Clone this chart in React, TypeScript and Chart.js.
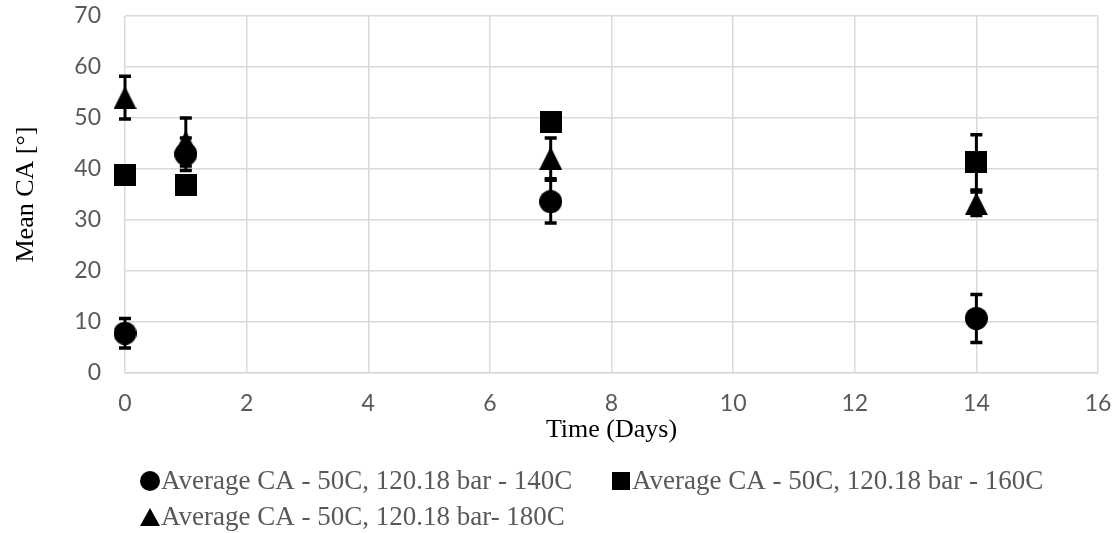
import { useEffect, useRef } from "react";
import { Chart, registerables } from "chart.js";

Chart.register(...registerables);

// Sampling days
const days = [0, 1, 7, 14];

// Mean contact angle (degrees) and error half-widths per treatment
const ca140 = [7.8, 42.9, 33.6, 10.7];
const err140 = [2.9, 3.2, 4.2, 4.7];
const ca160 = [38.9, 36.9, 49.3, 41.3];
const err160 = [1.0, 1.0, 1.0, 5.4];
const ca180 = [54.0, 45.3, 42.1, 33.2];
const err180 = [4.2, 4.7, 4.0, 2.3];

const seriesLabels = [
  "Average CA - 50C, 120.18 bar - 140C",
  "Average CA - 50C, 120.18 bar - 160C",
  "Average CA - 50C, 120.18 bar- 180C",
];

const xAxisTitle = "Time (Days)";
const yAxisTitle = "Mean CA [°]";
const xMin = 0;
const xMax = 16;
const xStep = 2;
const yMin = 0;
const yMax = 70;
const yStep = 10;

type Shape = "circle" | "square" | "triangle";

function drawShape(ctx: CanvasRenderingContext2D, shape: Shape, cx: number, cy: number, w: number, h = w) {
  ctx.beginPath();
  if (shape === "circle") {
    ctx.arc(cx, cy, w / 2, 0, Math.PI * 2);
  } else if (shape === "square") {
    ctx.rect(cx - w / 2, cy - h / 2, w, h);
  } else {
    ctx.moveTo(cx, cy - h / 2);
    ctx.lineTo(cx + w / 2, cy + h / 2);
    ctx.lineTo(cx - w / 2, cy + h / 2);
    ctx.closePath();
  }
  ctx.fillStyle = "#000";
  ctx.fill();
}

function markerCanvas(shape: Shape, size: number): HTMLCanvasElement {
  const c = document.createElement("canvas");
  c.width = size;
  c.height = size;
  const ctx = c.getContext("2d")!;
  drawShape(ctx, shape, size / 2, size / 2, size);
  return c;
}

const errors = [err140, err160, err180];

// Vertical error bars with caps, drawn beneath the markers
const errorBarPlugin = {
  id: "errorBars",
  beforeDatasetsDraw(chart: Chart) {
    const { ctx } = chart;
    const xs = chart.scales.x;
    const ys = chart.scales.y;
    ctx.save();
    ctx.strokeStyle = "#000";
    chart.data.datasets.forEach((ds: any, i: number) => {
      const errs = errors[i];
      ds.data.forEach((pt: any, j: number) => {
        const px = xs.getPixelForValue(pt.x);
        const top = ys.getPixelForValue(pt.y + errs[j]);
        const bot = ys.getPixelForValue(pt.y - errs[j]);
        ctx.lineWidth = 3;
        ctx.beginPath();
        ctx.moveTo(px, top);
        ctx.lineTo(px, bot);
        ctx.stroke();
        ctx.lineWidth = 3.5;
        ctx.beginPath();
        ctx.moveTo(px - 6, top);
        ctx.lineTo(px + 6, top);
        ctx.moveTo(px - 6, bot);
        ctx.lineTo(px + 6, bot);
        ctx.stroke();
      });
    });
    ctx.restore();
  },
};

const legendItems: { shape: Shape; w: number; h: number; mx: number; tx: number; y: number }[] = [
  { shape: "circle", w: 20, h: 20, mx: 150, tx: 161, y: 481 },
  { shape: "square", w: 18, h: 18, mx: 621, tx: 632, y: 481 },
  { shape: "triangle", w: 20, h: 18, mx: 150, tx: 161, y: 517 },
];

// Two-row legend below the x-axis title
const legendPlugin = {
  id: "bottomLegend",
  afterDraw(chart: Chart) {
    const { ctx } = chart;
    ctx.save();
    ctx.font = '27px "Liberation Serif"';
    ctx.textBaseline = "middle";
    ctx.textAlign = "left";
    legendItems.forEach((it, i) => {
      drawShape(ctx, it.shape, it.mx, it.y, it.w, it.h);
      ctx.fillStyle = "#595959";
      ctx.fillText(seriesLabels[i], it.tx, it.y + 1);
    });
    ctx.restore();
  },
};

export default function App() {
  const ref = useRef<HTMLCanvasElement>(null);

  useEffect(() => {
    if (!ref.current) return;
    const toPoints = (ys: number[]) => days.map((d, i) => ({ x: d, y: ys[i] }));
    const shapes: Shape[] = ["circle", "square", "triangle"];
    const sizes = [23, 22, 23];
    const values = [ca140, ca160, ca180];

    const chart = new Chart(ref.current, {
      type: "scatter",
      data: {
        datasets: values.map((v, i) => ({
          label: seriesLabels[i],
          data: toPoints(v),
          pointStyle: markerCanvas(shapes[i], sizes[i]),
          pointRadius: 11,
          backgroundColor: "#000",
          borderColor: "#000",
          showLine: false,
          clip: false,
        })),
      },
      options: {
        animation: false,
        responsive: true,
        maintainAspectRatio: false,
        layout: { padding: { top: 16, right: 19, bottom: 85, left: 0 } },
        plugins: {
          legend: { display: false },
          tooltip: { enabled: false },
        },
        scales: {
          x: {
            type: "linear",
            min: xMin,
            max: xMax,
            ticks: {
              stepSize: xStep,
              padding: 17,
              color: "#595959",
              font: { family: "Lato", size: 23 },
            },
            grid: { color: "#d9d9d9", lineWidth: 1.5, drawTicks: false },
            border: { color: "#d9d9d9", width: 1.5 },
            title: {
              display: true,
              text: xAxisTitle,
              color: "#000",
              font: { family: "Liberation Serif", size: 26 },
              padding: { top: 0, bottom: 2 },
            },
            afterFit(scale: any) {
              scale.height = 75;
              scale.paddingLeft = 0;
              scale.paddingRight = 0;
            },
          },
          y: {
            type: "linear",
            min: yMin,
            max: yMax,
            ticks: {
              stepSize: yStep,
              padding: 24,
              color: "#595959",
              font: { family: "Lato", size: 23 },
            },
            grid: { color: "#d9d9d9", lineWidth: 1.5, drawTicks: false },
            border: { display: false },
            title: {
              display: true,
              text: yAxisTitle,
              color: "#000",
              font: { family: "Liberation Serif", size: 26 },
              padding: { top: 11, bottom: 0 },
            },
            afterFit(scale: any) {
              scale.width = 125;
              scale.paddingTop = 0;
              scale.paddingBottom = 0;
            },
          },
        },
      },
      plugins: [errorBarPlugin, legendPlugin],
    });
    return () => chart.destroy();
  }, []);

  return (
    <div style={{ position: "fixed", left: 0, top: 0, width: 1117, height: 533, background: "#fff" }}>
      <canvas ref={ref} />
    </div>
  );
}
